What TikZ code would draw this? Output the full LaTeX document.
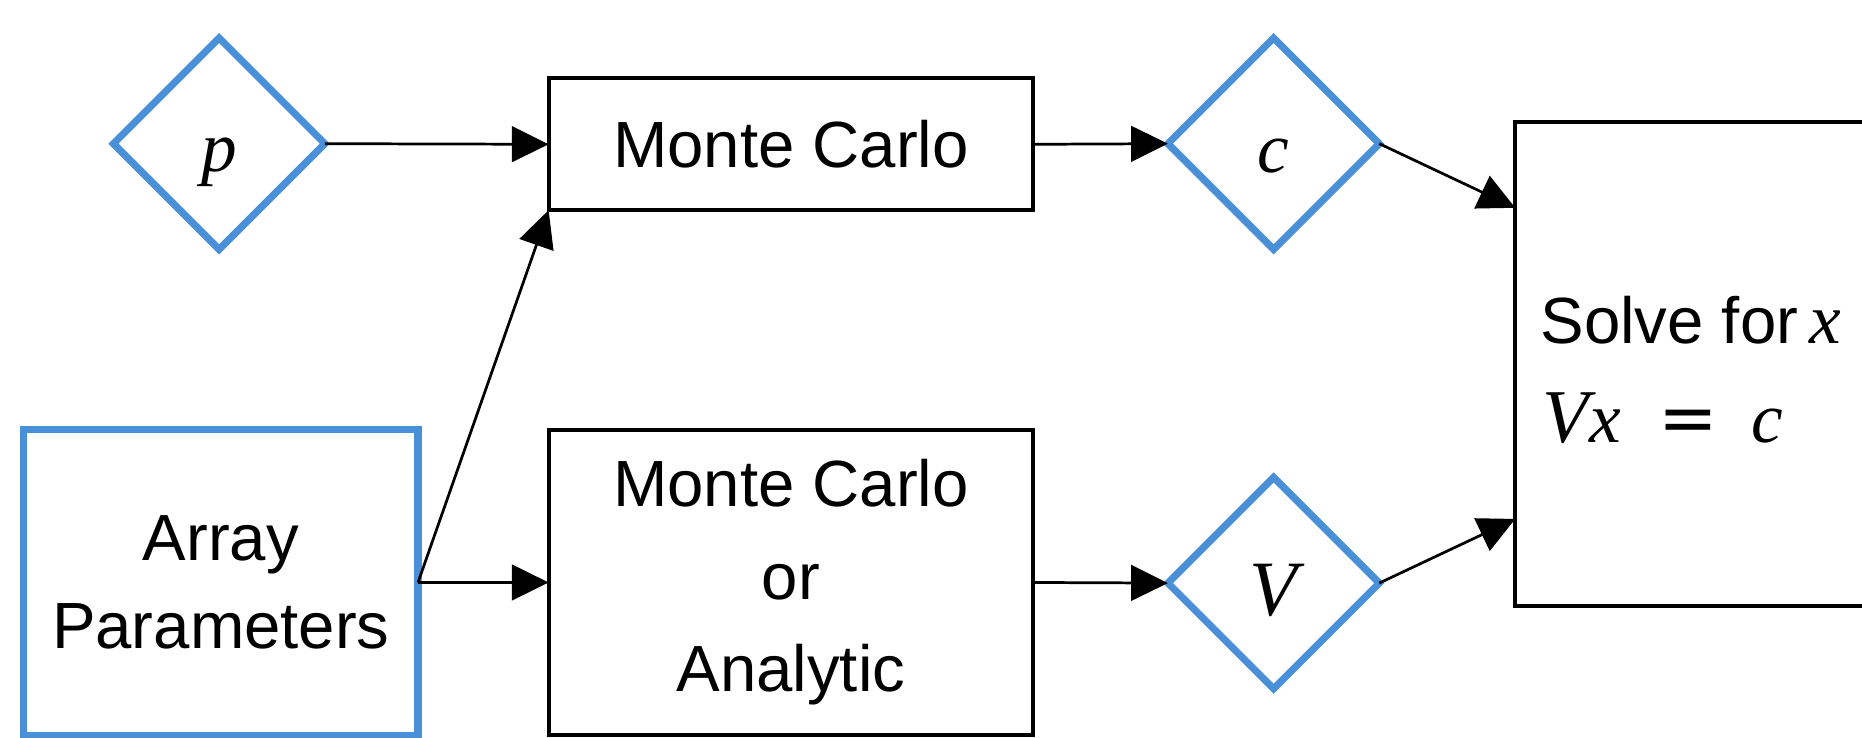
\documentclass[tikz,border=0pt]{standalone}
\usepackage{fontspec}
\setmainfont{Liberation Sans}
\newfontfamily\varfont{Liberation Serif}
\newfontfamily\symfont{DejaVu Sans}
\newcommand{\mv}[1]{{\varfont\itshape #1}}
\usetikzlibrary{shapes.geometric,arrows.meta}
\definecolor{flowblue}{RGB}{74,144,217}

\begin{document}
\begin{tikzpicture}[x=1pt,y=-1pt,
  procbox/.style={draw=black,line width=3.3pt,rectangle,inner sep=0pt,outer sep=0pt,
    align=center,font=\fontsize{55}{78}\selectfont},
  inbox/.style={draw=flowblue,line width=6pt,rectangle,inner sep=0pt,outer sep=0pt,
    align=center,font=\fontsize{55}{74}\selectfont},
  databox/.style={draw=flowblue,line width=6pt,diamond,minimum width=178pt,
    minimum height=178pt,inner sep=0pt,outer sep=0pt,text depth=0pt,
    font=\fontsize{60}{66}\selectfont},
  conn/.style={line width=2.3pt,-{Triangle[length=31pt,width=30pt]}},
  txt/.style={anchor=base west,inner sep=0pt,font=\fontsize{55}{66}\selectfont}]

\useasboundingbox (0,0) rectangle (1568,621);
\clip (0,0) rectangle (1568,621);

% data items (text height sets the baseline below the centre)
\node[databox,text height=46pt] (p) at (184.5,121) {\mv{p}};
\node[databox,text height=48pt] (c) at (1072.5,121) {\mv{c}};
\node[databox,text height=54pt] (v) at (1072.5,491) {{\fontsize{66}{66}\selectfont\mv{V}}};

% processing steps
\node[procbox,minimum width=408pt,minimum height=111pt] (mc) at (666,121.5) {Monte Carlo};
\node[procbox,minimum width=408pt,minimum height=257pt] (mca) at (666,490.5)
  {Monte Carlo\\or\\Analytic};
\node[inbox,minimum width=332pt,minimum height=257pt] (arr) at (186,490.5)
  {Array\\Parameters};
\node[procbox,minimum width=424pt,minimum height=407pt] (solve) at (1488,306.5) {};
\node[txt] (solvetxt) at (1297,289) {Solve for\,{\fontsize{60}{66}\selectfont\mv{x}}};
\node[txt,font=\fontsize{60}{66}\selectfont] (eq) at (1299,373)
  {{\fontsize{64}{66}\selectfont\mv{V}}\mv{x}\hspace{32pt}{\symfont =}\hspace{28pt}\mv{c}};

% connectors
\draw[conn] (p.east) -- (mc.west);
\draw[conn] (mc.east) -- (c.west);
\draw[conn] (arr.east) -- (mc.south west);
\draw[conn] (arr.east) -- (mca.west);
\draw[conn] (mca.east) -- (v.west);
\draw[conn] (c.east) -- ([yshift=131.5pt]solve.west);
\draw[conn] (v.east) -- ([yshift=-130.5pt]solve.west);
\end{tikzpicture}
\end{document}
